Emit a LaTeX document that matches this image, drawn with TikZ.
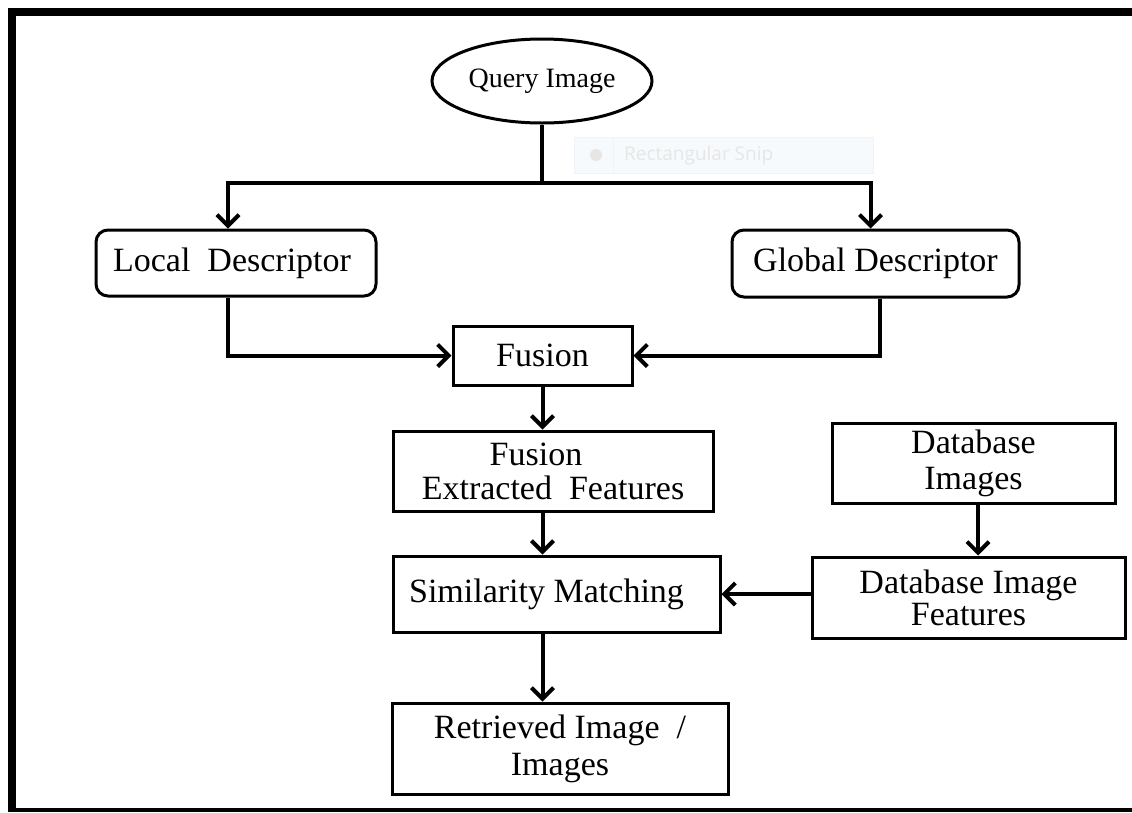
\documentclass[tikz,border=0pt]{standalone}
\usepackage{fontspec}
\setmainfont{Liberation Serif}
\newfontfamily\snipfont{Open Sans}
\usetikzlibrary{arrows.meta,shapes.geometric}
\definecolor{snipbg}{HTML}{F6FAFD}
\definecolor{snipedge}{HTML}{EEF4FA}
\definecolor{sniptext}{HTML}{E6E6E6}
\tikzset{
  box/.style={draw, line width=3pt, inner sep=0pt, align=center, font=\fontsize{34}{34}\selectfont},
  rbox/.style={box, rounded corners=12pt},
  arr/.style={line width=4pt, -{Straight Barb[length=11pt,width=22pt]}},
  conn/.style={line width=4pt},
}
\begin{document}
\begin{tikzpicture}[x=1pt,y=-1pt]
\useasboundingbox (0,0) rectangle (1132,812);
% frame
\fill[black] (8,8) rectangle (1132,16);
\fill[black] (8,8) rectangle (16,812);
\fill[black] (8,808) rectangle (1132,812);
% snip overlay
\fill[snipbg, draw=snipedge, line width=0.8pt] (574,137) rectangle (873,173);
\draw[snipedge, line width=0.8pt] (613,137) -- (613,173);
\fill[sniptext] (596,155) circle (6);
\node[anchor=west, inner sep=0pt, text=sniptext, font=\snipfont\fontsize{19}{20}\selectfont] (snip) at (624,156) {Rectangular Snip};
% nodes
\node[ellipse, draw, line width=3pt, inner sep=0pt, minimum width=220pt, minimum height=84pt, font=\fontsize{28}{30}\selectfont] (query) at (542,81) {Query Image};
\node[rbox, minimum width=280pt, minimum height=66pt] (local) at (236,263) {Local\ \ Descriptor\hspace*{8pt}};
\node[rbox, minimum width=287pt, minimum height=67pt] (global) at (875.5,263.5) {Global Descriptor};
\node[box, minimum width=179pt, minimum height=59pt] (fusion) at (542.5,355.5) {Fusion};
\node[box, minimum width=320pt, minimum height=80pt] (fef) at (553,471) {Fusion\hspace*{34pt}\\Extracted\ \ Features};
\node[box, minimum width=327pt, minimum height=76pt] (sim) at (556.5,594) {Similarity Matching\hspace*{20pt}};
\node[box, minimum width=336pt, minimum height=91pt, font=\fontsize{34}{37}\selectfont] (ret) at (560,748.5) {Retrieved Image\ \ /\\Images};
\node[box, minimum width=283pt, minimum height=80pt, font=\fontsize{34}{36}\selectfont] (dbi) at (973.5,463) {Database\\Images};
\node[box, minimum width=313pt, minimum height=81pt, font=\fontsize{34}{32}\selectfont] (dbif) at (968.5,597.5) {Database Image\\Features};
% connectors
\coordinate (split) at (542,183);
\draw[conn] (query.south) -- (split);
\draw[arr] (split) -| ([xshift=-8pt]local.north);
\draw[arr] (split) -| ([xshift=-5pt]global.north);
\draw[arr] ([xshift=-8pt]local.south) |- (fusion.west);
\draw[arr] ([xshift=4.5pt]global.south) |- (fusion.east);
\draw[arr] (fusion.south) -- (fusion.south |- fef.north);
\draw[arr] (fef.south -| fusion.south) -- (fusion.south |- sim.north);
\draw[arr] (sim.south -| fusion.south) -- (fusion.south |- ret.north);
\draw[arr] ([xshift=4.5pt]dbi.south) -- ([xshift=4.5pt]dbi.south |- dbif.north);
\draw[arr] ([yshift=3.5pt]dbif.west) -- ([yshift=3.5pt]dbif.west -| sim.east);
\end{tikzpicture}
\end{document}
